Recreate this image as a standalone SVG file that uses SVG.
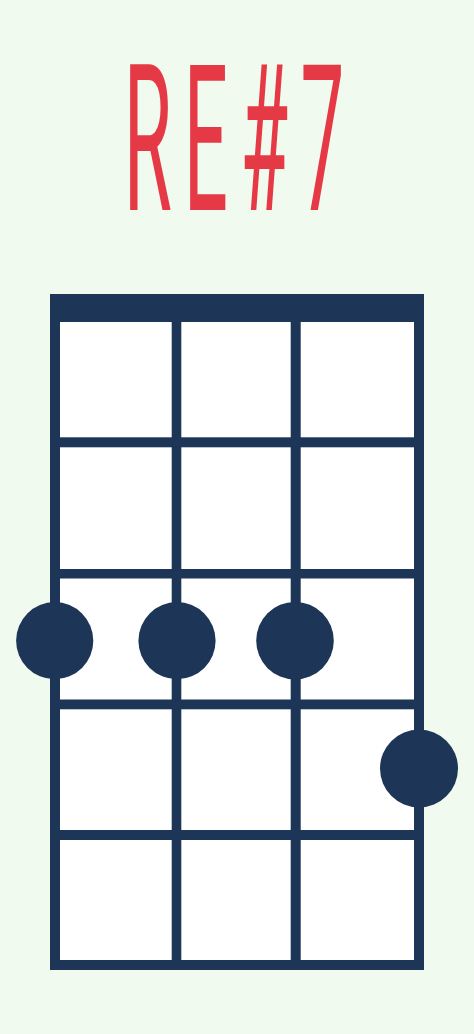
<svg xmlns="http://www.w3.org/2000/svg" width="474" height="1034" viewBox="0 0 474 1034">
  <style>
    .navy { fill: #1d3557; }
    .cell { fill: #ffffff; }
    .dot { fill: #1d3557; }
    .title { fill: #e63946; font-family: Roboto, "Liberation Sans", sans-serif; font-weight: 400; font-size: 205px; }
  </style>
  <rect x="0" y="0" width="474" height="1034" fill="#f1faee"/>
  <g id="title">
    <text class="title" transform="translate(240,210) scale(0.38,1)" x="0" y="0" text-anchor="middle" letter-spacing="32">RE#7</text>
  </g>
  <g id="fretboard">
    <rect class="navy" x="50" y="294" width="374" height="676"/>
    <rect class="cell" x="60" y="322" width="354" height="638"/>
  </g>
  <g id="connectors">
    <rect class="navy" x="171.7" y="322" width="9.6" height="638"/>
    <rect class="navy" x="290.7" y="322" width="10" height="638"/>
    <rect class="navy" x="60" y="437.3" width="354" height="10"/>
    <rect class="navy" x="60" y="569" width="354" height="9.5"/>
    <rect class="navy" x="60" y="699.5" width="354" height="9.8"/>
    <rect class="navy" x="60" y="830" width="354" height="10"/>
  </g>
  <g id="dot1"><circle class="dot" cx="54.7" cy="640.7" r="38.6"/></g>
  <g id="dot2"><circle class="dot" cx="177" cy="640.7" r="38.6"/></g>
  <g id="dot3"><circle class="dot" cx="295" cy="640.7" r="38.8"/></g>
  <g id="dot4"><circle class="dot" cx="419" cy="768.5" r="39"/></g>
</svg>
